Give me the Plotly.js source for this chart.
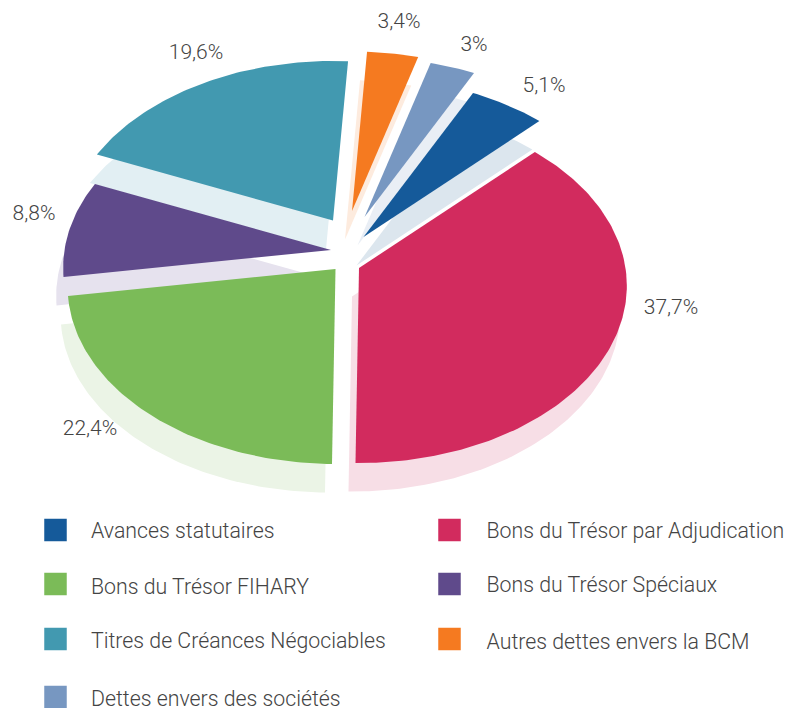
<!DOCTYPE html>
<html>
<head>
<meta charset="utf-8">
<script src="https://cdn.plot.ly/plotly-3.0.1.min.js"></script>
<style>html,body{margin:0;padding:0;background:#fff}#chart{width:785px;height:708px}</style>
</head>
<body>
<div id="chart"></div>
<script>
// ---- data ----
const categories = ["Avances statutaires","Bons du Trésor par Adjudication","Bons du Trésor FIHARY","Bons du Trésor Spéciaux","Titres de Créances Négociables","Autres dettes envers la BCM","Dettes envers des sociétés"];
const values = [5.1,37.7,22.4,8.8,19.6,3.4,3];
const valueLabels = ["5,1%","37,7%","22,4%","8,8%","19,6%","3,4%","3%"];

// ---- styles and placement ----
const colors = ["#155A9A","#D22B5E","#7BBB58","#5F4A8B","#4299B0","#F57A20","#7797C1"];
const shadowColors = ["#DCE6EE","#F7DEE6","#EBF4E6","#E6E2EE","#E2EFF3","#FDEBDE","#E9EEF5"];
const sliceApexX = [363.5,359,335.5,331,333,352,364.5];
const sliceApexY = [237,268,269,250,220.5,211,217];
const labelX = [544,671,90,34,196,399,474];
const labelY = [87,309,430,215,54,23,46];
const legendX = [55.5,449.5,55.5,449.5,55.5,449.5,55.5];
const legendY = [530,530,584,584,639,639,697];
const legendTextY = [533,533,589,587,643,644,701];
const startAngle = 26.6, radiusX = 266.5, radiusY = 175.5, tilt = 0.1;
const shadowDx = -7, shadowDy = 28.5;
const font = "Roboto, sans-serif", textColor = "#444444";

// A slice on the tilted disc: angle measured clockwise from the top, in degrees.
function slicePath(apexX, apexY, from, to) {
  const x = [apexX], y = [apexY];
  const steps = Math.ceil(to - from);
  for (let i = 0; i <= steps; i++) {
    const a = (from + (to - from) * i / steps) * Math.PI / 180;
    const w = 1 + tilt * Math.cos(a);
    x.push(apexX + radiusX * Math.sin(a) / w);
    y.push(apexY - radiusY * Math.cos(a) / w);
  }
  x.push(apexX); y.push(apexY);
  return {x, y};
}

const total = values.reduce((a, b) => a + b, 0);
const shadows = [], slices = [];
let angle = startAngle;
values.forEach((v, i) => {
  const next = angle + v / total * 360;
  const main = slicePath(sliceApexX[i], sliceApexY[i], angle, next);
  const back = slicePath(sliceApexX[i] + shadowDx, sliceApexY[i] + shadowDy, angle, next);
  shadows.push({type:"scatter", mode:"lines", x:back.x, y:back.y, fill:"toself", fillcolor:shadowColors[i],
    line:{width:0, color:shadowColors[i]}, hoverinfo:"skip", showlegend:false});
  slices.push({type:"scatter", mode:"lines", x:main.x, y:main.y, fill:"toself", fillcolor:colors[i],
    line:{width:0, color:colors[i]}, name:categories[i], text:valueLabels[i], hoverinfo:"name+text", hoveron:"fills", showlegend:false});
  angle = next;
});

const pctLabels = {type:"scatter", mode:"text", x:labelX, y:labelY, text:valueLabels,
  textposition:"middle center", textfont:{family:font, size:21, color:textColor, weight:300},
  hoverinfo:"skip", showlegend:false};
const legendMarks = {type:"scatter", mode:"markers", x:legendX, y:legendY,
  marker:{symbol:"square", size:22.5, color:colors, line:{width:0}}, hoverinfo:"skip", showlegend:false};
const legendLabels = {type:"scatter", mode:"text", x:legendX.map((v, i) => v + (i % 2 && i < 6 ? 37 : 35.5)), y:legendTextY, text:categories,
  textposition:"middle right", textfont:{family:font, size:21.3, color:textColor, weight:300},
  hoverinfo:"skip", showlegend:false};

const axis = {visible:false, fixedrange:true, showgrid:false, zeroline:false};
Plotly.newPlot("chart", [...shadows, ...slices, pctLabels, legendMarks, legendLabels], {
  width:785, height:708, margin:{l:0,r:0,t:0,b:0},
  paper_bgcolor:"#ffffff", plot_bgcolor:"#ffffff", showlegend:false,
  xaxis:{...axis, range:[0,785]},
  yaxis:{...axis, range:[708,0]}
}, {displayModeBar:false, responsive:false});
</script>
</body>
</html>
